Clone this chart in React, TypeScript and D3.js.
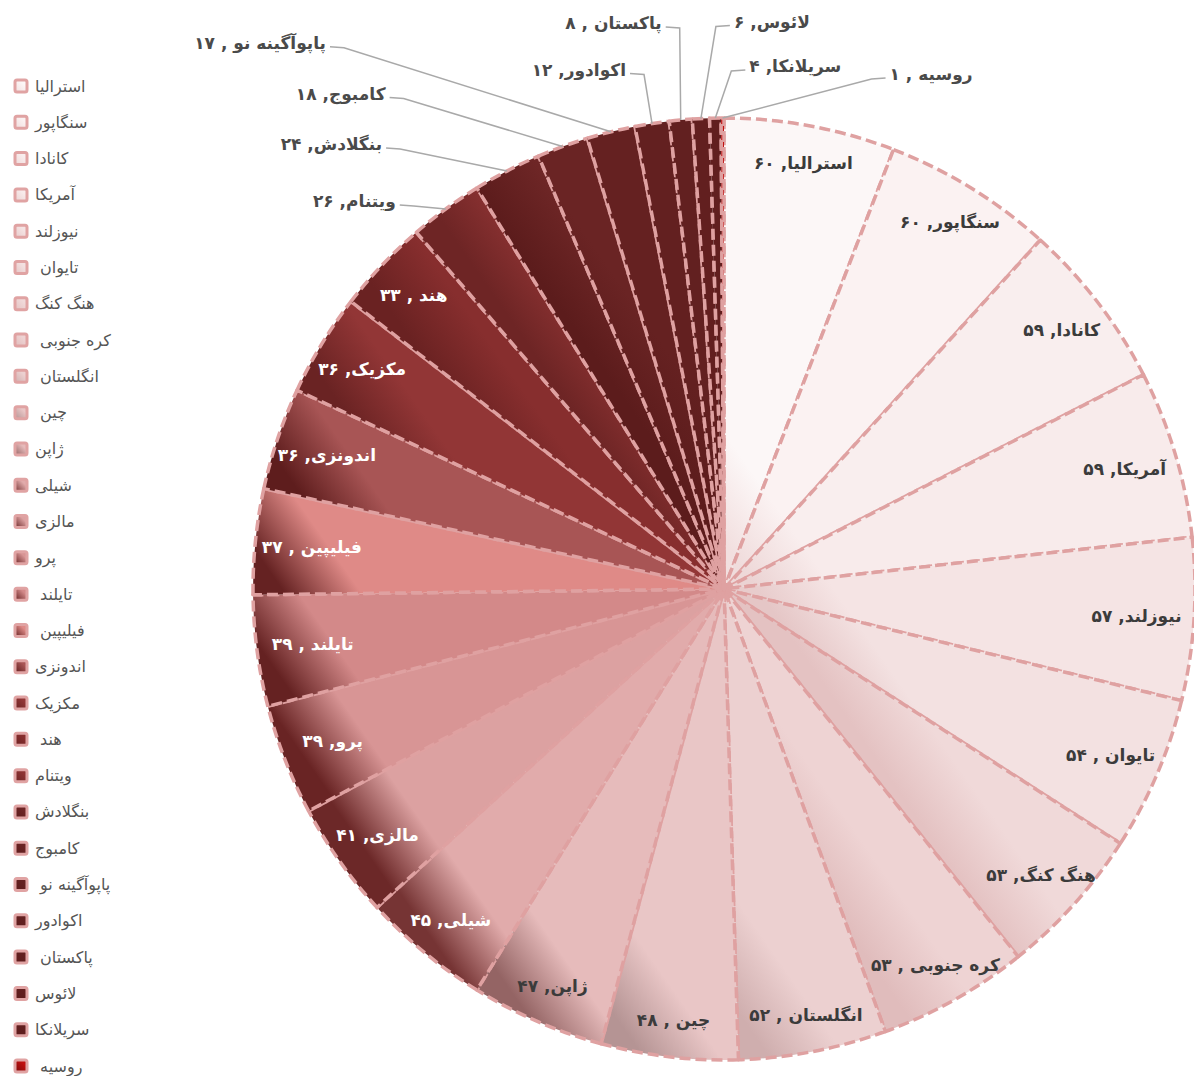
import React, { useEffect, useRef } from "react";
import * as d3 from "d3";

// countries in slice order (clockwise from 12 o'clock); trailing spaces are part of the source labels
const countries = [
  "استرالیا", "سنگاپور", "کانادا", "آمریکا", "نیوزلند", "تایوان ", "هنگ کنگ",
  "کره جنوبی ", "انگلستان ", "چین ", "ژاپن", "شیلی", "مالزی", "پرو",
  "تایلند ", "فیلیپین ", "اندونزی", "مکزیک", "هند ", "ویتنام", "بنگلادش",
  "کامبوج", "پاپوآگینه نو ", "اکوادور", "پاکستان ", "لائوس", "سریلانکا", "روسیه ",
];

const values = [
  60, 60, 59, 59, 57, 54, 53, 53, 52, 48, 47, 45, 41, 39,
  39, 37, 36, 36, 33, 26, 24, 18, 17, 12, 8, 6, 4, 1,
];

const sliceColors = [
  "#fcf7f7", "#fbf2f2", "#f9eeee", "#f8ebeb", "#f5e4e4", "#f3e1e1", "#f0d9d9",
  "#eed3d3", "#ecd0d0", "#e9c6c6", "#e6bbbb", "#e1abab", "#dca1a1", "#d89595",
  "#d38989", "#df8a87", "#a85555", "#923636", "#872e2e", "#8e3333", "#6e2626",
  "#6a2424", "#652121", "#632020", "#622020", "#621f1f", "#611f1f", "#c01010",
];

const shadeColors = [
  "#f2dfdf", "#f0dcdc", "#eed8d8", "#ebd3d3", "#e8cccc", "#e5c6c6", "#e4c2c2",
  "#e0bcbc", "#cfaeae", "#b59494", "#946464", "#763434", "#6c2828", "#692424",
  "#652222", "#652222", "#5e1d1d", "#6a2323", "#6a2222", "#6e2525", "#5c1c1c",
  "#5c1c1c", "#5c1c1c", "#5c1c1c", "#5c1c1c", "#5c1c1c", "#5c1c1c", "#7a0a0a",
];

// small slices get their label outside; offset of the label anchor from the rim point
const calloutOffsets: Record<string, [number, number]> = {
  "ویتنام": [-46, -4],
  "بنگلادش": [-121, -23],
  "کامبوج": [-173, -49],
  "پاپوآگینه نو ": [-281, -85],
  "اکوادور": [-22, -50],
  "پاکستان ": [-15, -93],
  "لائوس": [29, -93],
  "سریلانکا": [30, -48],
  "روسیه ": [163, -40],
};

const faDigits = (n: number) =>
  String(n).replace(/\d/g, (d) => "۰۱۲۳۴۵۶۷۸۹"[+d]);

export default function App() {
  const svgRef = useRef<SVGSVGElement>(null);

  useEffect(() => {
    if (!svgRef.current) return;
    const svg = d3.select(svgRef.current);
    svg.selectAll("*").remove();

    const cx = 724;
    const cy = 589;
    const radius = 471;
    const font = "'DejaVu Sans', sans-serif";
    const strokeColor = "#dfa1a1";

    const data = countries.map((name, i) => ({ name, value: values[i], i }));
    const pie = d3
      .pie<any>()
      .sort(null)
      .value((d) => d.value);
    const arcs = pie(data);
    const arc = d3.arc<any>().innerRadius(0).outerRadius(radius);

    const defs = svg.append("defs");
    const rim = (a: number, r = radius) => [r * Math.sin(a), -r * Math.cos(a)];

    // each slice darkens from its lower-left-most point toward the upper right
    const shadeLen = 90;
    const tilt = (35 * Math.PI) / 180;
    const ux = Math.cos(tilt);
    const uy = -Math.sin(tilt);
    const proj = (q: number[]) => q[0] * ux + q[1] * uy;
    arcs.forEach((a) => {
      const pts = [[0, 0], rim(a.startAngle), rim(a.endAngle)];
      const extreme = (3 * Math.PI) / 2 - tilt;
      if (a.startAngle <= extreme && a.endAngle >= extreme) pts.push(rim(extreme));
      const p = pts.reduce((m, q) => (proj(q) < proj(m) ? q : m));
      const grad = defs
        .append("linearGradient")
        .attr("id", `slice-${a.index}`)
        .attr("gradientUnits", "userSpaceOnUse")
        .attr("x1", p[0])
        .attr("y1", p[1])
        .attr("x2", p[0] + shadeLen * ux)
        .attr("y2", p[1] + shadeLen * uy);
      grad.append("stop").attr("offset", 0).attr("stop-color", shadeColors[a.index]);
      grad.append("stop").attr("offset", 0.3).attr("stop-color", shadeColors[a.index]);
      grad.append("stop").attr("offset", 1).attr("stop-color", sliceColors[a.index]);

      const mg = defs
        .append("linearGradient")
        .attr("id", `marker-${a.index}`)
        .attr("x1", 0)
        .attr("y1", 1)
        .attr("x2", 1)
        .attr("y2", 0);
      mg.append("stop").attr("offset", 0).attr("stop-color", shadeColors[a.index]);
      mg.append("stop").attr("offset", 0.7).attr("stop-color", sliceColors[a.index]);
    });

    const g = svg.append("g").attr("transform", `translate(${cx},${cy})`);

    g.selectAll("path.slice")
      .data(arcs)
      .join("path")
      .attr("class", "slice")
      .attr("d", arc)
      .attr("fill", (d) => `url(#slice-${d.index})`)
      .attr("stroke", strokeColor)
      .attr("stroke-width", 3.5)
      .attr("stroke-dasharray", "11,5")
      .attr("stroke-linejoin", "round");

    const labelText = (d: any) => `${d.data.name}, ${faDigits(d.data.value)}`;

    // inside labels, pushed a little further out near the vertical
    arcs
      .filter((d) => !calloutOffsets[d.data.name])
      .forEach((d) => {
        const mid = (d.startAngle + d.endAngle) / 2;
        const [x, y] = rim(mid, 412 + 22 * Math.abs(Math.cos(mid)));
        g.append("text")
          .attr("x", x)
          .attr("y", y)
          .attr("text-anchor", "middle")
          .attr("dominant-baseline", "central")
          .attr("font-family", font)
          .attr("font-weight", "bold")
          .attr("font-size", 17)
          .attr("fill", d.index >= 11 ? "#ffffff" : "#3b3b3b")
          .style("white-space", "pre")
          .text(labelText(d));
      });

    // outside labels with leader lines
    arcs
      .filter((d) => calloutOffsets[d.data.name])
      .forEach((d) => {
        const mid = (d.startAngle + d.endAngle) / 2;
        const [ex, ey] = rim(mid);
        const [dx, dy] = calloutOffsets[d.data.name];
        const ax = ex + dx;
        const ay = ey + dy;
        const side = dx < 0 ? -1 : 1;
        const line = d3.line();
        g.append("path")
          .attr("d", line([[ax, ay], [ax - side * 14, ay + 1], [ex, ey]]))
          .attr("fill", "none")
          .attr("stroke", "#a9a9a9")
          .attr("stroke-width", 1.5);
        g.append("text")
          .attr("x", ax + side * 4)
          .attr("y", ay - 4)
          .attr("text-anchor", side < 0 ? "end" : "start")
          .attr("dominant-baseline", "central")
          .attr("font-family", font)
          .attr("font-weight", "bold")
          .attr("font-size", 17)
          .attr("fill", "#4a4a4a")
          .style("white-space", "pre")
          .text(labelText(d));
      });

    // legend
    const legend = svg.append("g");
    const rowY = d3
      .scalePoint<number>()
      .domain(d3.range(countries.length))
      .range([86, 1066]);
    const rows = legend
      .selectAll("g")
      .data(data)
      .join("g")
      .attr("transform", (d) => `translate(0,${rowY(d.i)})`);
    rows
      .append("rect")
      .attr("x", 15)
      .attr("y", -6)
      .attr("width", 12)
      .attr("height", 12)
      .attr("rx", 2)
      .attr("fill", (d) => `url(#marker-${d.i})`)
      .attr("stroke", "#e0a3a3")
      .attr("stroke-width", 3);
    rows
      .append("text")
      .attr("x", 35)
      .attr("y", 0)
      .attr("direction", "rtl")
      .attr("text-anchor", "end")
      .attr("dominant-baseline", "central")
      .attr("font-family", font)
      .attr("font-size", 16)
      .attr("fill", "#555555")
      .style("white-space", "pre")
      .text((d) => d.name);
  }, []);

  return (
    <svg
      ref={svgRef}
      width={1194}
      height={1076}
      style={{ position: "absolute", left: 0, top: 0, background: "#ffffff" }}
    />
  );
}
